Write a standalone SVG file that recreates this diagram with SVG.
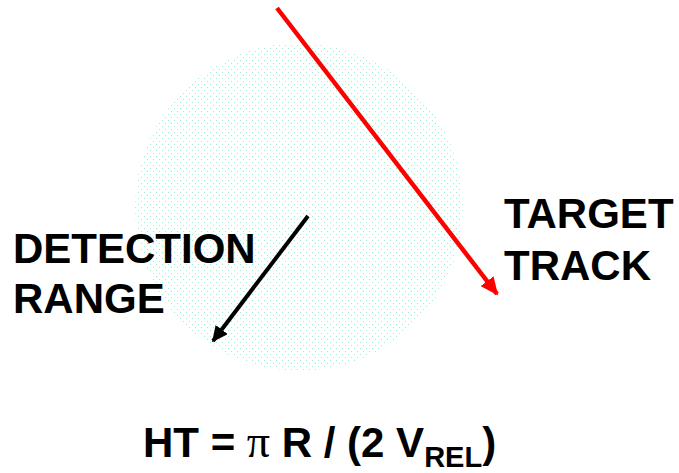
<svg xmlns="http://www.w3.org/2000/svg" width="679" height="473" viewBox="0 0 679 473">
<defs>
<pattern id="dots" width="6" height="6" patternUnits="userSpaceOnUse">
<rect x="0" y="0" width="1" height="1" fill="#5fd9b0"/>
<rect x="3" y="3" width="1" height="1" fill="#5fd9b0"/>
</pattern>
<marker id="redHead" markerWidth="4" markerHeight="3.6" refX="3.6" refY="1.8" orient="auto" markerUnits="strokeWidth">
<path d="M0,0 L4,1.8 L0,3.6 Z" fill="#ff0000"/>
</marker>
<marker id="blackHead" markerWidth="4" markerHeight="3.8" refX="3.6" refY="1.9" orient="auto" markerUnits="strokeWidth">
<path d="M0,0 L4,1.9 L0,3.8 Z" fill="#000000"/>
</marker>
</defs>
<style>
.lbl{font-family:"Liberation Sans",Arial,sans-serif;font-weight:bold;font-size:42px;fill:#000}
.f{font-family:"Liberation Sans",Arial,sans-serif;font-weight:bold;font-size:42px;fill:#000}
</style>
<rect width="679" height="473" fill="#ffffff"/>
<g id="detection-area">
<circle cx="299" cy="207" r="164" fill="url(#dots)" opacity="0.55"/>
</g>
<g id="connectors">
<line x1="277" y1="8" x2="497" y2="294" stroke="#ff0000" stroke-width="4.5" marker-end="url(#redHead)"/>
<line x1="308" y1="216" x2="213" y2="341" stroke="#000000" stroke-width="4" marker-end="url(#blackHead)"/>
</g>
<g id="label-target">
<text class="lbl" x="504" y="228">TARGET</text>
<text class="lbl" x="504" y="280">TRACK</text>
</g>
<g id="label-detection">
<text class="lbl" x="13" y="263">DETECTION</text>
<text class="lbl" x="13" y="313">RANGE</text>
</g>
<g id="formula">
<text class="f" x="143" y="457">HT = <tspan font-family="'Liberation Serif','Times New Roman',serif" font-weight="normal" font-size="46">π</tspan> R / (2 V<tspan font-size="29" dy="10">REL</tspan><tspan dy="-10">)</tspan></text>
</g>
</svg>
